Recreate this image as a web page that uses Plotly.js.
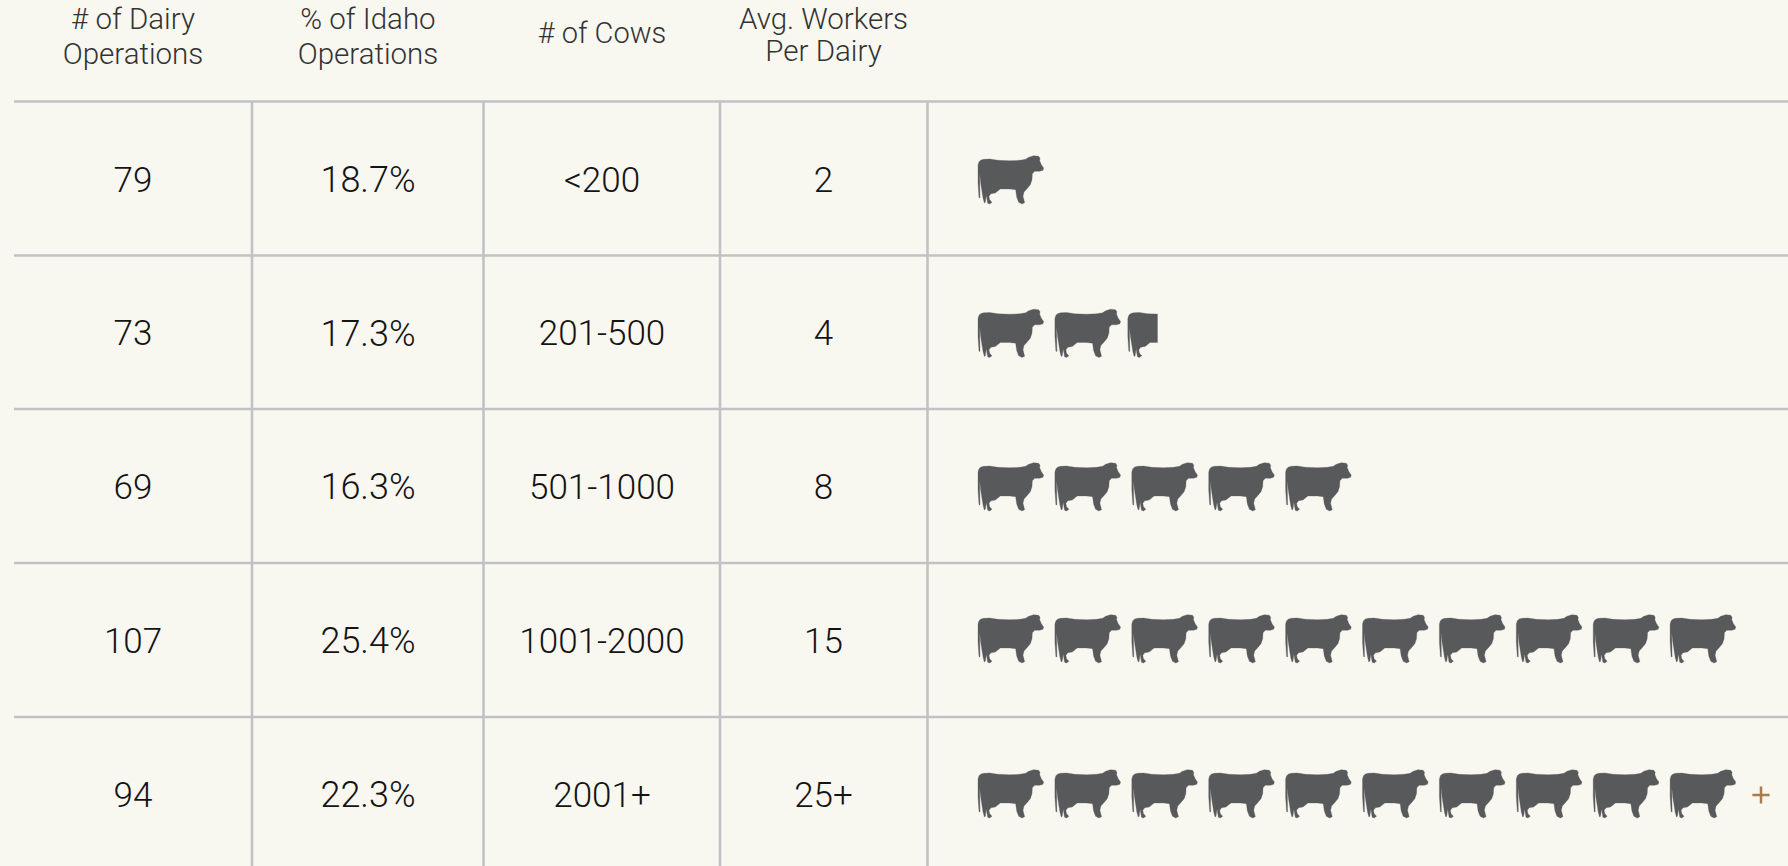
<!DOCTYPE html>
<html><head><meta charset="utf-8">
<script src="https://cdn.plot.ly/plotly-3.0.1.min.js"></script>
<style>html,body{margin:0;padding:0;background:#f8f7f0;overflow:hidden}#c{width:1788px;height:866px}</style>
</head><body><div id="c"></div>
<script>
// ---- data ----
const operations = ['79','73','69','107','94'];
const shares = ['18.7%','17.3%','16.3%','25.4%','22.3%'];
const herdSizes = ['<200','201-500','501-1000','1001-2000','2001+'];
const workers = ['2','4','8','15','25+'];
const cowIcons = [1, 2.45, 5, 10, 10];
const hasPlus = [false,false,false,false,true];
const headers = [
  ['# of Dairy','Operations'],
  ['% of Idaho','Operations'],
  ['# of Cows'],
  ['Avg. Workers','Per Dairy']
];
// ---- layout constants ----
const W=1788,H=866;
const colCenters=[133,368,602,823.5];
const colLines=[252,483.5,720,927.5];
const rowLines=[101.5,255.5,409,563,717];
const rowCenters=[180,333.5,487,639,794];
const plusY=795;
const textRows=[183,336.5,490,644,798];
const headerYs=[[21.5,56.5],[21.5,56.5],[35.5],[21.5,53.5]];
const headerSizes=[29.5,29.5,29,29.5];
const FONT='Roboto';
// cow outline, px relative to icon's left/vertical centre
const cowRaw=[[55,86],[58,76],[64,71],[72,69],[90,68],[115,72],[150,73],[180,72],[198,69],[207,63],[222,58],[237,60],[241,66],[240,73],[245,85],[252,95],[250,102],[240,105],[225,105],[218,112],[217,130],[212,145],[202,157],[193,167],[190,180],[195,199],[187,203],[177,198],[171,182],[168,160],[150,158],[122,158],[107,170],[94,172],[88,180],[90,190],[97,198],[90,203],[84,201],[82,190],[80,177],[77,198],[74,200],[70,185],[66,165],[63,140],[60,112],[61,140],[61,185],[58,184],[55,140]];
const cow=cowRaw.map(p=>[(p[0]-55)/3,(p[1]-131)/3]);
const cowStep=76.9,cowLeft=978,cowW=66;
function clip(poly,xmax){
  const out=[];
  for(let i=0;i<poly.length;i++){
    const a=poly[i],b=poly[(i+1)%poly.length];
    const ai=a[0]<=xmax,bi=b[0]<=xmax;
    if(ai)out.push(a);
    if(ai!==bi){const t=(xmax-a[0])/(b[0]-a[0]);out.push([xmax,a[1]+t*(b[1]-a[1])]);}
  }
  return out;
}
const cx=[],cy=[];
rowCenters.forEach((yc,r)=>{
  const n=cowIcons[r];
  for(let i=0;i<Math.ceil(n);i++){
    const frac=Math.min(1,n-i);
    const poly=frac<1?clip(cow,frac*cowW):cow;
    const x0=cowLeft+i*cowStep-(frac<1?4:0);
    poly.forEach(p=>{cx.push(x0+p[0]);cy.push(yc+p[1]);});
    cx.push(x0+poly[0][0]);cy.push(yc+poly[0][1]);
    cx.push(null);cy.push(null);
  }
});
const bodyCols=[operations,shares,herdSizes,workers];
const traces=[];
bodyCols.forEach((col,i)=>{
  traces.push({type:'scatter',mode:'text',x:col.map(()=>colCenters[i]),y:textRows,text:col,
    textposition:'middle center',textfont:{family:FONT,size:i===1?36:35,weight:300,color:'#141414'},hoverinfo:'skip',cliponaxis:false});
});
headers.forEach((lines,i)=>{
  traces.push({type:'scatter',mode:'text',x:lines.map(()=>colCenters[i]),y:headerYs[i],text:lines,
    textposition:'middle center',textfont:{family:FONT,size:headerSizes[i],weight:300,color:'#333333'},hoverinfo:'skip',cliponaxis:false});
});
traces.push({type:'scatter',mode:'lines',x:cx,y:cy,fill:'toself',fillcolor:'#58595b',line:{width:0.3,color:'#58595b'},hoverinfo:'skip',connectgaps:false});
const plusRows=hasPlus.filter(Boolean);
traces.push({type:'scatter',mode:'markers',x:plusRows.map(()=>1761),y:plusRows.map(()=>plusY),
  marker:{symbol:'cross-thin',size:12.3,line:{width:2.5,color:'#a97c50'}},hoverinfo:'skip'});
const shapes=[];
const gl={color:'#c1c2c5',width:2.6};
rowLines.forEach(y=>shapes.push({type:'line',xref:'x',yref:'y',x0:14,x1:W,y0:y,y1:y,line:gl,layer:'below'}));
colLines.forEach(x=>shapes.push({type:'line',xref:'x',yref:'y',x0:x,x1:x,y0:rowLines[0],y1:H,line:gl,layer:'below'}));
const layout={width:W,height:H,margin:{l:0,r:0,t:0,b:0},paper_bgcolor:'#f8f7f0',plot_bgcolor:'#f8f7f0',showlegend:false,
  xaxis:{range:[0,W],visible:false,fixedrange:true},
  yaxis:{range:[H,0],visible:false,fixedrange:true},shapes};
Plotly.newPlot('c',traces,layout,{displayModeBar:false,staticPlot:true});
</script></body></html>
